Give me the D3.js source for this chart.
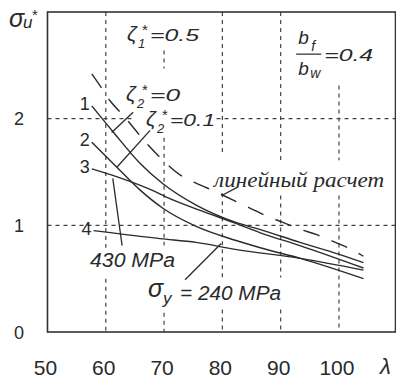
<!DOCTYPE html>
<html>
<head>
<meta charset="utf-8">
<script src="https://cdnjs.cloudflare.com/ajax/libs/d3/7.8.5/d3.min.js"></script>
<style>
  body { margin: 0; background: #fff; }
  svg { display: block; }
  text { font-family: "Liberation Sans", Arial, sans-serif; fill: #2a2a2a; }
</style>
</head>
<body>
<svg id="chart" width="396" height="380"></svg>
<script>
// ---- data (lambda, sigma_u*) ----
const xTicks = [50, 60, 70, 80, 90, 100];
const yTicks = [0, 1, 2];

const curve1 = [[57.6, 2.12], [61.2, 1.88], [65.9, 1.58], [69.8, 1.39], [75.5, 1.19], [82.2, 1.03], [86.5, 0.96], [93.3, 0.84], [99.9, 0.73], [104.2, 0.65]];
const curve2 = [[57.6, 1.78], [61.9, 1.545], [65.9, 1.33], [69.8, 1.16], [75.5, 0.99], [82.2, 0.86], [86.5, 0.79], [93.4, 0.69], [104.2, 0.50]];
const curve3 = [[57.6, 1.53], [62.2, 1.45], [67.9, 1.33], [70.2, 1.27], [76.2, 1.14], [82.2, 1.02], [86.5, 0.93], [93.3, 0.81], [104.2, 0.60]];
const curve4 = [[57.9, 0.95], [69.3, 0.875], [75.5, 0.84], [82.2, 0.775], [93.4, 0.69], [104.2, 0.58]];
const linear = [[57.6, 2.42], [59, 2.31], [60.7, 2.17], [63, 2.03], [67.3, 1.75], [69.8, 1.61], [73.1, 1.46], [75.3, 1.40], [77.4, 1.35], [84.8, 1.16], [87.9, 1.08], [90.3, 1.03], [93, 0.97], [96.3, 0.91], [99.4, 0.84], [101.9, 0.78], [104.2, 0.71]];

const solidCurves = [curve1, curve2, curve3, curve4];
const curveNames = ["1", "2", "3", "4"];

// visible pieces of the dashed grid (gaps left for the labels)
const gridXParts = [
  [60, [[0, 0.50], [0.79, 3]]],
  [70, [[0, 0.18], [0.81, 1.82], [2.47, 2.64]]],
  [80, [[0, 0.21], [0.51, 1.30], [1.68, 3]]],
  [90, [[0, 0.21], [0.51, 1.28], [1.61, 3]]],
  [100, [[0, 1.28], [1.61, 2.31]]]
];
const gridYParts = [
  [1, [[50, 109.7]]],
  [2, [[50, 64.7], [79, 109.7]]]
];

// leader lines from labels to curves
const leaders = [
  [[64.7, 2.06], [61.0, 1.87]],   // zeta2=0 -> 1
  [[67.6, 1.89], [61.9, 1.545]],  // zeta2=0.1 -> 2
  [[61.2, 1.44], [62.8, 0.81]],   // 430 MPa
  [[73.6, 0.49], [79.8, 0.83]],   // 240 MPa
  [[79.9, 1.28], [82.7, 1.36]]    // linear
];

const svg = d3.select("#chart");

const x = d3.scaleLinear().domain([50, 109.7]).range([47.5, 395.5]);
const y = d3.scaleLinear().domain([0, 3]).range([332, 12]);

// grid
gridXParts.forEach(([v, parts]) => {
  parts.forEach(p => {
    svg.append("line")
      .attr("x1", x(v)).attr("x2", x(v))
      .attr("y1", y(p[1])).attr("y2", y(p[0]))
      .attr("stroke", "#444").attr("stroke-width", 1.2)
      .attr("stroke-dasharray", "4,4");
  });
});
gridYParts.forEach(([v, parts]) => {
  parts.forEach(p => {
    svg.append("line")
      .attr("x1", x(p[0])).attr("x2", x(p[1]))
      .attr("y1", y(v)).attr("y2", y(v))
      .attr("stroke", "#444").attr("stroke-width", 1.2)
      .attr("stroke-dasharray", "4,4");
  });
});

// frame
svg.append("rect")
  .attr("x", x(50)).attr("y", y(3))
  .attr("width", x(109.7) - x(50)).attr("height", y(0) - y(3))
  .attr("fill", "none").attr("stroke", "#333").attr("stroke-width", 1.6);

// tick labels
svg.selectAll(".xt").data(xTicks).enter().append("text")
  .attr("x", d => x(d) - 2).attr("y", 375)
  .attr("text-anchor", "middle").attr("font-size", 21)
  .text(d => d);
svg.selectAll(".yt").data(yTicks).enter().append("text")
  .attr("x", 19).attr("y", d => y(d) + 6.5)
  .attr("text-anchor", "middle").attr("font-size", 18)
  .text(d => d);

// axis titles
const yt = svg.append("g").attr("transform", "translate(9,27)");
yt.append("text").attr("font-size", 25).attr("font-style", "italic").text("σ");
yt.append("text").attr("x", 14).attr("y", 1).attr("font-size", 17).attr("font-style", "italic").text("u");
yt.append("text").attr("x", 23).attr("y", -7).attr("font-size", 15).text("*");
svg.append("text").attr("x", 380).attr("y", 374)
  .attr("font-size", 22).attr("font-style", "italic").text("λ");

// curves
const line = d3.line().x(d => x(d[0])).y(d => y(d[1])).curve(d3.curveMonotoneX);

svg.selectAll(".curve").data(solidCurves).enter().append("path")
  .attr("d", line)
  .attr("fill", "none").attr("stroke", "#2a2a2a").attr("stroke-width", 1.4);

svg.append("path").datum(linear)
  .attr("d", line)
  .attr("fill", "none").attr("stroke", "#2a2a2a").attr("stroke-width", 1.4)
  .attr("stroke-dasharray", "17,13");

// leader lines
leaders.forEach(l => {
  svg.append("line")
    .attr("x1", x(l[0][0])).attr("y1", y(l[0][1]))
    .attr("x2", x(l[1][0])).attr("y2", y(l[1][1]))
    .attr("stroke", "#2a2a2a").attr("stroke-width", 1.3);
});

// curve numbers
solidCurves.forEach((c, i) => {
  svg.append("text")
    .attr("x", x(c[0][0]) - 7).attr("y", y(c[0][1]) + 4)
    .attr("text-anchor", "middle").attr("font-size", 18)
    .text(curveNames[i]);
});

// compound label helper: parts = [text, dx, dy, size, italic, width]
function label(lam, sig, parts) {
  const g = svg.append("g").attr("transform", `translate(${x(lam)},${y(sig)})`);
  parts.forEach(p => {
    const t = g.append("text").attr("x", p[1]).attr("y", p[2])
      .attr("font-size", p[3]).attr("font-style", p[4] ? "italic" : "normal")
      .text(p[0]);
    if (p[5]) t.attr("textLength", p[5]).attr("lengthAdjust", "spacingAndGlyphs");
  });
  return g;
}

label(63.82, 2.724, [["ζ", -1, 0, 21, true], ["1", 10, 7, 13, true], ["*", 14, -6, 15, false], ["=0.5", 22, 0, 17, true, 49]]);
label(63.65, 2.164, [["ζ", -1, 0, 21, true], ["2", 10, 7, 13, true], ["*", 15, -6, 15, false], ["=0", 23, 0, 17, true, 30]]);
label(67.08, 1.935, [["ζ", -1, 0, 21, true], ["2", 10, 7, 13, true], ["*", 15, -6, 15, false], ["=0.1", 23, 0, 17, true, 45]]);

const bf = label(92.66, 2.605, [["b", 2, -10, 19, true], ["f", 15, -3, 14, true], ["b", 2, 21, 19, true], ["w", 14, 24, 14, true], ["=0.4", 28, 7, 17, true, 49]]);
bf.append("line").attr("x1", 0).attr("x2", 25).attr("y1", 0).attr("y2", 0)
  .attr("stroke", "#2a2a2a").attr("stroke-width", 1.2);

svg.append("text").attr("x", x(78.58)).attr("y", y(1.364))
  .style("font-family", "'Liberation Serif', serif").attr("font-style", "italic")
  .attr("font-size", 21).attr("textLength", 170).attr("lengthAdjust", "spacingAndGlyphs")
  .text("линейный расчет");

svg.append("text").attr("x", x(57.3)).attr("y", y(0.607))
  .attr("font-size", 20).attr("font-style", "italic")
  .attr("textLength", 85).attr("lengthAdjust", "spacingAndGlyphs")
  .text("430 MPa");

label(67.25, 0.299, [["σ", 0, -3, 25, true], ["y", 15, 4, 17, true], ["= 240 MPa", 32, 0, 20, true, 101]]);
</script>
</body>
</html>
